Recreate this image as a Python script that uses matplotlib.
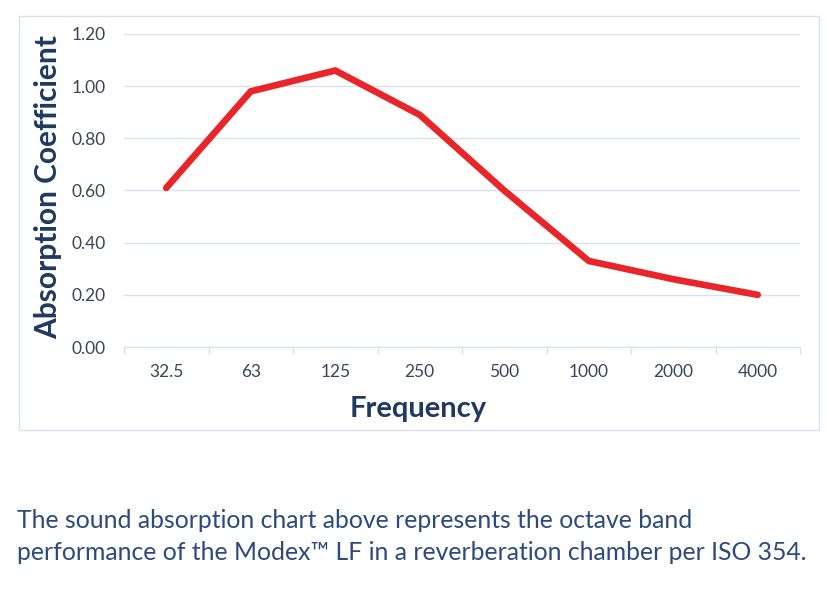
import matplotlib.pyplot as plt
from matplotlib.patches import Rectangle
import numpy as np

frequencies = ['32.5', '63', '125', '250', '500', '1000', '2000', '4000']
absorption = [0.61, 0.98, 1.06, 0.89, 0.60, 0.33, 0.26, 0.20]
y_ticks = [0.0, 0.2, 0.4, 0.6, 0.8, 1.0, 1.2]

navy = '#1F3A60'
grid_col = '#D9E2EC'

fig = plt.figure(figsize=(8.27, 5.98), dpi=100)
ax = fig.add_axes([124/827, 1 - 347/598, (800-124)/827, (347-34)/598])

x = np.arange(len(frequencies))
ax.plot(x, absorption, color='#E8262A', lw=4.8, solid_capstyle='round', solid_joinstyle='miter', zorder=3)

ax.set_xlim(-0.5, len(frequencies) - 0.5)
ax.set_ylim(0, 1.2)
ax.set_yticks(y_ticks)
ax.set_yticklabels([f'{v:.2f}' for v in y_ticks], fontsize=12.5, color='#3A4656', family='Lato')
ax.set_xticks(x)
ax.set_xticklabels(frequencies, fontsize=12.5, color='#3A4656', family='Lato')
ax.set_xticks(np.arange(-0.5, len(frequencies)), minor=True)
ax.tick_params(axis='x', which='major', length=0, pad=12)
ax.tick_params(axis='x', which='minor', length=5, color=grid_col, width=1)
ax.tick_params(axis='y', length=0, pad=37.5)
for lbl in ax.get_yticklabels():
    lbl.set_horizontalalignment('left')

ax.grid(axis='y', color=grid_col, lw=1)
ax.set_axisbelow(True)
for s in ['top', 'right', 'left']:
    ax.spines[s].set_visible(False)
ax.spines['bottom'].set_color(grid_col)

fig.text(48/827, 1 - 187/598, 'Absorption Coefficient', rotation=90, fontsize=21.5,
         fontweight='bold', color=navy, family='Lato', ha='center', va='center')
fig.text(418/827, 1 - 409/598, 'Frequency', fontsize=21, fontweight='bold',
         color=navy, family='Lato', ha='center', va='center')

fig.patches.append(Rectangle((19/827, 1 - 430/598), 800/827, 414/598, transform=fig.transFigure,
                             fill=False, edgecolor=grid_col, lw=1))

fig.text(17/827, 1 - 520/598, 'The sound absorption chart above represents the octave band',
         fontsize=17.8, color='#2B4A7E', family='Lato', va='center')
fig.text(17/827, 1 - 553/598, 'performance of the Modex\u2122 LF in a reverberation chamber per ISO 354.',
         fontsize=17.8, color='#2B4A7E', family='Lato', va='center')

fig.savefig('out.png', dpi=100)
